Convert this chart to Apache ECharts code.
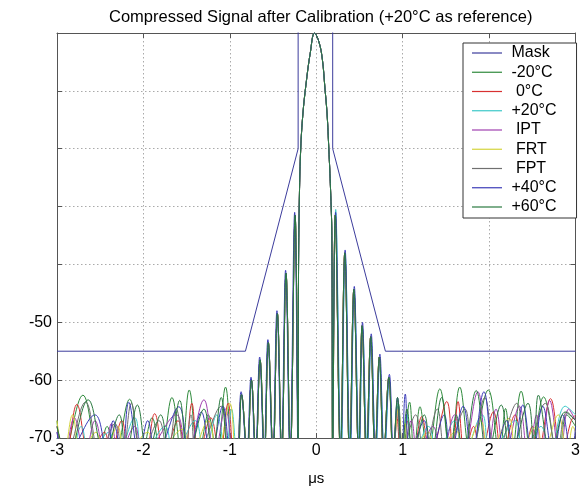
<!DOCTYPE html>
<html><head><meta charset="utf-8">
<script src="https://cdn.jsdelivr.net/npm/echarts@6/dist/echarts.min.js"></script>
<style>html,body{margin:0;padding:0;background:#fff}#c{width:583px;height:491px}</style>
</head><body><div id="c"></div>
<script>
const FLOOR = -73;
const F = FLOOR;
const titleText = 'Compressed Signal after Calibration (+20°C as reference)';
const xAxisName = 'μs';
const yLabelsShown = [-50, -60, -70];
const seriesNames = ['Mask', '-20°C', '0°C', '+20°C', 'IPT', 'FRT', 'FPT', '+40°C', '+60°C'];
const seriesColors = ['#3c3c9c', '#2f8a3c', '#d83030', '#3cc8c8', '#a040b0', '#d4d43c', '#707070', '#3c3cb8', '#2a7a40'];

const maskPoints = [[-3, -55], [-0.82, -55], [-0.21, -20], [-0.21, 10], [0.19, 10], [0.19, -20], [0.80, -55], [3, -55]];

const coreLeft = [[-0.92,F],[-0.865,-62.5],[-0.80,F],[-0.75,-60],[-0.70,F],[-0.65,-56.5],[-0.60,F],[-0.555,-53.5],[-0.50,F],[-0.45,-48.5],[-0.40,F],[-0.35,-41.5],[-0.30,F],[-0.245,-31.5],[-0.21,F]];
const blueCoreLeft = [[-0.925,F],[-0.87,-62],[-0.805,F],[-0.755,-59.5],[-0.705,F],[-0.655,-56],[-0.605,F],[-0.56,-53],[-0.505,F],[-0.455,-48],[-0.405,F],[-0.355,-41],[-0.305,F],[-0.25,-31],[-0.212,F]];
const mainLobe = [[-0.205,-40],[-0.195,-28],[-0.18,-20],[-0.155,-14],[-0.12,-9],[-0.07,-3.5],[-0.02,0],[0.03,-1.5],[0.07,-4.5],[0.10,-9.5],[0.125,-14],[0.145,-20],[0.165,-27],[0.18,-35],[0.19,F]];
const coreRight = [[0.19,F],[0.22,-31.5],[0.28,F],[0.33,-38],[0.385,F],[0.435,-44.3],[0.49,F],[0.53,-50.6],[0.58,F],[0.63,-52.5],[0.68,F],[0.73,-56],[0.78,F],[0.84,-59.5],[0.89,F]];
const cyanCoreRight = [[0.198,F],[0.225,-30.5],[0.288,F],[0.335,-38.5],[0.393,F],[0.44,-45],[0.498,F],[0.535,-51],[0.59,F],[0.635,-53],[0.69,F],[0.735,-57],[0.79,F],[0.845,-60],[0.89,F]];
const blueCoreRight = [[0.193,F],[0.224,-31],[0.284,F],[0.334,-37.5],[0.39,F],[0.44,-43.8],[0.494,F],[0.535,-50],[0.585,F],[0.636,-52],[0.686,F],[0.736,-55.5],[0.786,F],[0.846,-59],[0.895,F]];

const m20Left = [[-3.0,-67],[-2.93,F],[-2.70,-62.6],[-2.52,F],[-2.42,-68],[-2.33,F],[-2.16,-63.3],[-2.02,F],[-1.90,-66.5],[-1.80,F],[-1.67,-63],[-1.56,F],[-1.47,-61.7],[-1.36,F],[-1.25,-66],[-1.15,F],[-1.05,-61.2],[-0.96,F]];
const m20Right = [[0.89,F],[0.95,-64],[1.00,F],[1.08,-63.8],[1.13,F],[1.20,-64.6],[1.29,F],[1.43,-61.5],[1.55,F],[1.66,-61.2],[1.79,F],[1.99,-61.7],[2.12,F],[2.19,-64.9],[2.26,F],[2.37,-61.9],[2.49,F],[2.63,-62.9],[2.80,F],[2.90,-66],[3.0,-68]];

const zeroLeft = [[-3.0,-68],[-2.90,F],[-2.77,-64.2],[-2.62,F],[-2.45,-69],[-2.38,F],[-2.25,-67],[-2.15,F],[-2.00,F],[-1.87,-65.8],[-1.76,F],[-1.60,-67],[-1.52,F],[-1.44,-64],[-1.36,F],[-1.22,-66.5],[-1.12,F],[-1.02,-64],[-0.95,F]];
const zeroRight = [[0.89,F],[0.93,-66],[0.98,F],[1.05,-67],[1.12,F],[1.22,-66.3],[1.32,F],[1.51,-63.7],[1.58,F],[1.64,-63.7],[1.72,F],[1.82,-68],[1.90,F],[2.05,-65.5],[2.15,F],[2.30,-66],[2.40,F],[2.50,-68],[2.56,F],[2.71,-63.2],[2.84,F],[2.95,-67],[3.0,-66]];

const p20Left = [[-3.0,-70],[-2.85,F],[-2.72,-68],[-2.62,F],[-2.40,-69],[-2.30,F],[-2.10,-66.5],[-2.00,F],[-1.75,-68],[-1.65,F],[-1.40,-67],[-1.30,F],[-1.15,-66],[-1.05,F],[-0.98,-65],[-0.92,F]];
const p20Right = [[0.89,F],[0.94,-64],[0.99,F],[1.05,-66],[1.12,F],[1.30,-68],[1.40,F],[1.60,-67],[1.70,F],[1.92,-66],[2.02,F],[2.30,-67],[2.40,F],[2.60,-68],[2.70,F],[2.88,-64.5],[3.0,-66]];

const iptLeft = [[-3.0,-69],[-2.92,F],[-2.80,-66.5],[-2.68,F],[-2.56,-67],[-2.45,F],[-2.37,-67.5],[-2.28,F],[-2.10,-68],[-2.00,F],[-1.62,-66],[-1.50,F],[-1.30,-63.4],[-1.18,F],[-1.05,-65],[-0.95,F]];
const iptRight = [[0.89,F],[0.95,-65],[1.00,F],[1.10,-67],[1.18,F],[1.35,-68],[1.45,F],[1.60,-66],[1.70,F],[1.87,-62],[1.98,F],[2.08,-65],[2.18,F],[2.35,-64.5],[2.45,F],[2.55,-66],[2.60,F],[2.70,-63.5],[2.82,F],[2.92,-65],[3.0,-67]];

const frtLeft = [[-3.0,-67],[-2.92,F],[-2.82,-66],[-2.72,F],[-2.55,-69],[-2.45,F],[-2.30,-68],[-2.20,F],[-1.95,-69],[-1.85,F],[-1.55,-68.5],[-1.45,F],[-1.25,-67],[-1.15,F],[-1.00,-64],[-0.93,F]];
const frtRight = [[0.89,F],[0.95,-65],[1.00,F],[1.03,-67.5],[1.08,F],[1.30,-69],[1.38,F],[1.62,-68.8],[1.70,F],[1.90,-67],[2.00,F],[2.23,-66.6],[2.32,F],[2.55,-68],[2.62,F],[2.80,-66],[2.90,F],[2.97,-68],[3.0,-69]];

const fptLeft = [[-3.0,-68],[-2.90,F],[-2.67,-63.8],[-2.50,F],[-2.33,-67.5],[-2.24,F],[-2.14,-64],[-2.02,F],[-1.82,-67],[-1.72,F],[-1.62,-65],[-1.52,F],[-1.45,-66],[-1.38,F],[-1.10,-64.5],[-1.00,F]];
const fptRight = [[0.89,F],[0.94,-63.5],[0.99,F],[1.15,-66],[1.25,F],[1.40,-65],[1.50,F],[1.72,-65],[1.80,F],[1.95,-63],[2.08,F],[2.32,-64],[2.42,F],[2.65,-64],[2.78,F],[2.90,-65.5],[3.0,-67]];

const p40Left = [[-3.0,-69],[-2.90,F],[-2.56,-66],[-2.42,F],[-2.35,-67],[-2.25,F],[-2.17,-63.8],[-2.05,F],[-1.95,-67],[-1.85,F],[-1.59,-64.6],[-1.47,F],[-1.33,-65.5],[-1.22,F],[-1.08,-64.5],[-0.98,F]];
const p40Right = [[0.895,F],[0.94,-63],[0.99,F],[1.03,-62.4],[1.09,F],[1.25,-67],[1.32,F],[1.48,-66],[1.55,F],[1.70,-64.5],[1.80,F],[1.94,-62],[2.06,F],[2.20,-67],[2.28,F],[2.39,-64.3],[2.50,F],[2.62,-64.5],[2.74,F],[2.85,-66],[2.95,F],[3.0,-68]];

const p60Left = [[-3.0,-68],[-2.88,F],[-2.64,-63.4],[-2.45,F],[-2.28,-66],[-2.20,F],[-2.07,-64.3],[-1.95,F],[-1.80,-66],[-1.70,F],[-1.58,-63.5],[-1.48,F],[-1.30,-65],[-1.20,F],[-1.10,-63],[-1.00,F]];
const p60Right = [[0.89,F],[0.94,-63],[0.99,F],[1.05,-65],[1.12,F],[1.25,-66],[1.33,F],[1.45,-63],[1.55,F],[1.62,-66],[1.70,F],[1.85,-61.8],[1.98,F],[2.14,-64.3],[2.25,F],[2.45,-64],[2.52,F],[2.57,-62.6],[2.72,F],[2.88,-65.5],[3.0,-67]];

const signalParts = [
  [m20Left, coreLeft, mainLobe, coreRight, m20Right],
  [zeroLeft, coreLeft, mainLobe, coreRight, zeroRight],
  [p20Left, coreLeft, mainLobe, cyanCoreRight, p20Right],
  [iptLeft, coreLeft, mainLobe, coreRight, iptRight],
  [frtLeft, coreLeft, mainLobe, coreRight, frtRight],
  [fptLeft, coreLeft, mainLobe, coreRight, fptRight],
  [p40Left, blueCoreLeft, mainLobe, blueCoreRight, p40Right],
  [p60Left, coreLeft, mainLobe, coreRight, p60Right]
];

const FONT = 'Liberation Sans, Arial, Helvetica, sans-serif';
const series = [{
  name: seriesNames[0], type: 'line', data: maskPoints, symbol: 'none',
  lineStyle: { color: seriesColors[0], width: 1 }, itemStyle: { color: seriesColors[0] }, z: 3
}];
signalParts.forEach((parts, i) => {
  series.push({
    name: seriesNames[i + 1], type: 'line', data: [].concat(...parts), symbol: 'none', smooth: 0.4,
    lineStyle: { color: seriesColors[i + 1], width: 1 }, itemStyle: { color: seriesColors[i + 1] }, clip: true, z: 2
  });
});

const chart = echarts.init(document.getElementById('c'), null, { renderer: 'canvas' });
const gridLine = { show: true, lineStyle: { color: '#aaa', type: [1.5, 2.5], width: 1 } };
chart.setOption({
  animation: false,
  backgroundColor: '#fff',
  title: { text: titleText, left: 104, top: 4, textStyle: { fontFamily: FONT, fontSize: 16.5, fontWeight: 'normal', color: '#000' } },
  grid: { left: 57, right: 3, top: 33, bottom: 44, containLabel: false },
  legend: {
    orient: 'vertical', left: 463, top: 43, data: seriesNames,
    icon: 'rect', itemWidth: 30, itemHeight: 1.2, itemGap: 3.25,
    padding: [2, 20, 3, 9], borderColor: '#333', borderWidth: 1, backgroundColor: '#fff',
    textStyle: { fontFamily: FONT, fontSize: 16, color: '#000', lineHeight: 16 },
    formatter: n => (['0°C', 'IPT', 'FRT', 'FPT'].includes(n) ? '  ' : ' ') + n
  },
  xAxis: [{
    type: 'value', min: -3, max: 3, interval: 1, name: xAxisName, nameLocation: 'middle', nameGap: 33,
    nameTextStyle: { fontFamily: FONT, fontSize: 15, color: '#000' },
    axisLine: { onZero: false, lineStyle: { color: '#555' } },
    axisTick: { inside: true, length: 5, lineStyle: { color: '#555' } },
    axisLabel: { fontFamily: FONT, fontSize: 16, color: '#000', margin: 5 },
    splitLine: gridLine
  }, {
    type: 'value', min: -3, max: 3, interval: 1, position: 'top',
    axisLine: { onZero: false, lineStyle: { color: '#555' } },
    axisTick: { inside: true, length: 5, lineStyle: { color: '#555' } },
    axisLabel: { show: false }, splitLine: { show: false }
  }],
  yAxis: [{
    type: 'value', min: -70, max: 0, interval: 10,
    axisLine: { show: true, onZero: false, lineStyle: { color: '#555' } },
    axisTick: { show: true, inside: true, length: 5, lineStyle: { color: '#555' } },
    axisLabel: { fontFamily: FONT, fontSize: 16, color: '#000', margin: 5,
      formatter: v => yLabelsShown.includes(v) ? String(v) : '' },
    splitLine: gridLine
  }, {
    type: 'value', min: -70, max: 0, interval: 10, position: 'right',
    axisLine: { show: true, onZero: false, lineStyle: { color: '#555' } },
    axisTick: { show: true, inside: true, length: 5, lineStyle: { color: '#555' } },
    axisLabel: { show: false }, splitLine: { show: false }
  }],
  series: series
});
</script>
</body></html>
